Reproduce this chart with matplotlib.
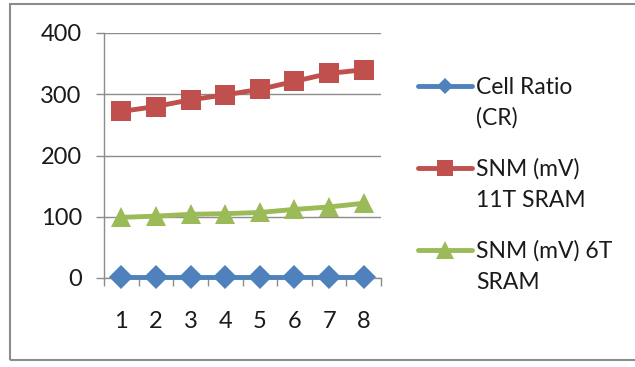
import matplotlib
matplotlib.use("Agg")
import matplotlib.pyplot as plt
from matplotlib.lines import Line2D
from matplotlib.patches import Rectangle

categories = [1, 2, 3, 4, 5, 6, 7, 8]
cell_ratio = [1, 1, 1, 1, 1, 1, 1, 1]
snm_11t = [272, 280, 291, 299, 308, 321, 334, 340]
snm_6t = [99, 101, 104, 105, 107, 112, 116, 122]
y_ticks = [0, 100, 200, 300, 400]

labels = [["Cell Ratio", "(CR)"], ["SNM (mV)", "11T SRAM"], ["SNM (mV) 6T", "SRAM"]]
colors = ["#4F81BD", "#C0504D", "#9BBB59"]
markers = ["D", "s", "^"]
plot_ms = [12.5, 14, 14]
legend_ms = [8.5, 12, 13]

W, H = 635, 367
plt.rcParams["font.family"] = ["Lato", "DejaVu Sans"]
fig = plt.figure(figsize=(W / 100, H / 100), dpi=100)

# outer chart border
fig.add_artist(Rectangle((10 / W, 1 - 360 / H), 700 / W, 356 / H,
                         transform=fig.transFigure, fill=False,
                         edgecolor="#8c8c8c", linewidth=1.5))

ax = fig.add_axes([104 / W, 1 - 278 / H, (381 - 104) / W, (278 - 33) / H])
x = list(range(len(categories)))
series = [cell_ratio, snm_11t, snm_6t]
for vals, c, m, ms in zip(series, colors, markers, plot_ms):
    ax.plot(x, vals, color=c, marker=m, markersize=ms, linewidth=3.5,
            markeredgewidth=0, clip_on=False, zorder=3)

ax.set_xlim(-0.5, len(categories) - 0.5)
ax.set_ylim(0, 400)
ax.set_yticks(y_ticks)
ax.set_yticklabels([str(v) for v in y_ticks])
ax.set_xticks(x)
ax.set_xticklabels([str(c) for c in categories])
ax.set_xticks([i - 0.5 for i in range(len(categories) + 1)], minor=True)
ax.tick_params(axis="x", which="major", length=0, pad=24, labelsize=17,
               labelcolor="#1a1a1a")
ax.tick_params(axis="x", which="minor", length=6, direction="out",
               color="#8c8c8c", width=1)
ax.tick_params(axis="y", length=6, direction="out", color="#8c8c8c",
               width=1, labelsize=17, pad=10, labelcolor="#1a1a1a")
ax.grid(axis="y", color="#8c8c8c", linewidth=1)
ax.set_axisbelow(True)
for s in ["top", "right"]:
    ax.spines[s].set_visible(False)
for s in ["left", "bottom"]:
    ax.spines[s].set_color("#8c8c8c")
    ax.spines[s].set_linewidth(1)

# legend entries drawn beside the plot
legend_y = [86, 168, 250]
for lines, c, m, ms, yy in zip(labels, colors, markers, legend_ms, legend_y):
    fy = 1 - yy / H
    fig.add_artist(Line2D([418 / W, 472 / W], [fy, fy], transform=fig.transFigure,
                          color=c, linewidth=3.5, solid_capstyle="round"))
    fig.add_artist(Line2D([445 / W], [fy], transform=fig.transFigure,
                          color=c, marker=m, markersize=ms, markeredgewidth=0))
    for i, line in enumerate(lines):
        fig.text(476 / W, 1 - (yy + 8 + 31 * i) / H, line, fontsize=16.5,
                 ha="left", va="baseline", color="#1a1a1a")

fig.savefig("out.png", dpi=100, facecolor="white")
